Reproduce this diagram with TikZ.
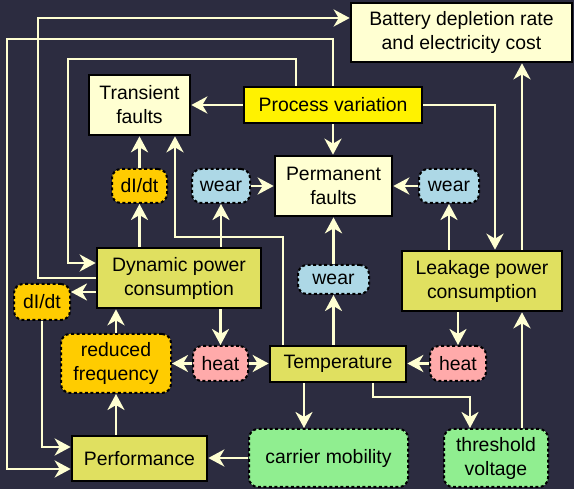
\documentclass[tikz,border=0pt]{standalone}
\usepackage{fontspec}
\setmainfont{Liberation Sans}
\usetikzlibrary{arrows.meta}
\definecolor{bgcol}{HTML}{2C2C40}
\definecolor{cream}{HTML}{FFFFD2}
\definecolor{olive}{HTML}{E0E060}
\definecolor{gold}{HTML}{FFCC00}
\definecolor{sky}{HTML}{ADD8E6}
\definecolor{rose}{HTML}{FFAAAA}
\definecolor{mint}{HTML}{90EE90}
\begin{document}
\begin{tikzpicture}[x=1pt,y=-1pt,
  box/.style={draw=black,line width=2.6pt,align=center,inner sep=0pt,
    font=\fontsize{19.4}{24}\selectfont},
  soft/.style={box,line width=2pt,dash pattern=on 3pt off 2.5pt,rounded corners=9pt},
  arr/.style={draw=cream,line width=2.8pt,
    -{Stealth[length=16pt,width=17pt,inset=5pt]}}]
  \useasboundingbox (0,0) rectangle (574,489);
  \fill[bgcol] (0,0) rectangle (574,489);
  % boxes
  \node[box,fill=cream,minimum width=221,minimum height=59] (bat) at(461.5,32.5){Battery depletion rate\\and electricity cost};
  \node[box,fill=cream,minimum width=101,minimum height=60] (tr) at(139.5,105){Transient\\faults};
  \node[box,fill=yellow,minimum width=178,minimum height=36] (pv) at(333,105){Process variation};
  \node[box,fill=cream,minimum width=117,minimum height=60] (perm) at(333.5,186){Permanent\\faults};
  \node[soft,fill=sky,minimum width=58,minimum height=34] (wearL) at(221,186){wear};
  \node[soft,fill=gold,minimum width=55,minimum height=34] (didtT) at(139.5,186){dI/dt};
  \node[soft,fill=sky,minimum width=60,minimum height=34] (wearR) at(449,186){wear};
  \node[box,fill=olive,minimum width=164,minimum height=60] (dyn) at(179,278){Dynamic power\\consumption};
  \node[soft,fill=sky,minimum width=71,minimum height=29] (wearM) at(333.5,279.5){wear};
  \node[box,fill=olive,minimum width=160,minimum height=60] (leak) at(482,281){Leakage power\\consumption};
  \node[soft,fill=gold,minimum width=56,minimum height=36] (didtL) at(42,302){dI/dt};
  \node[soft,fill=gold,minimum width=110,minimum height=59] (rf) at(116,363.5){reduced\\frequency};
  \node[soft,fill=rose,minimum width=55,minimum height=35] (heatL) at(220.5,363.5){heat};
  \node[box,fill=olive,minimum width=136,minimum height=36] (temp) at(338,364){Temperature};
  \node[soft,fill=rose,minimum width=56,minimum height=35] (heatR) at(458,363.5){heat};
  \node[box,fill=olive,minimum width=135,minimum height=45] (perf) at(139.5,458.5){Performance};
  \node[soft,fill=mint,minimum width=159,minimum height=58] (cm) at(328.5,458){carrier mobility};
  \node[soft,fill=mint,minimum width=104,minimum height=58] (thr) at(496,458){threshold\\voltage};
  % long loops
  \draw[arr] (dyn.west) -| (38,18) -- (bat.west |- 0,18);
  \draw[arr] (pv.north) |- (7,39) |- (perf.west |- 0,469);
  \draw[arr] (pv.north -| 296,0) |- (68,59) |- (dyn.west |- 0,263);
  \draw[arr] (pv.east) -| (leak.north -| 495,0);
  \draw[arr] (leak.north -| 522,0) -- (bat.south -| 522,0);
  \draw[arr] (temp.north -| 283,0) |- (175,237) -- (tr.south -| 175,0);
  \draw[arr] (temp.south -| 373,0) |- (470,397) -- (thr.north -| 470,0);
  \draw[arr] (didtL.south) |- (perf.west |- 0,447);
  % short links
  \draw[arr] (pv.west) -- (tr.east);
  \draw[arr] (pv.south) -- (pv.south |- perm.north);
  \draw[arr] (wearR.south |- leak.north) -- (wearR.south);
  \draw[arr] (wearR.west) -- (perm.east |- wearR.west);
  \draw[arr] (wearL.east) -- (perm.west |- wearL.east);
  \draw[arr] (wearL.south |- dyn.north) -- (wearL.south);
  \draw[arr] (didtT.south |- dyn.north) -- (didtT.south);
  \draw[arr] (didtT.north) -- (tr.south -| didtT.north);
  \draw[arr] (wearM.south |- temp.north) -- (wearM.south);
  \draw[arr] (wearM.north) -- (perm.south -| wearM.north);
  \draw[arr] (heatL.north |- dyn.south) -- (heatL.north);
  \draw[arr] (dyn.west |- 0,292) -- (didtL.east |- 0,292);
  \draw[arr] (rf.north) -- (rf.north |- dyn.south);
  \draw[arr] (rf.south |- perf.north) -- (rf.south);
  \draw[arr] (heatL.west) -- (rf.east |- heatL.west);
  \draw[arr] (heatL.east) -- (temp.west |- heatL.east);
  \draw[arr] (heatR.north |- leak.south) -- (heatR.north);
  \draw[arr] (heatR.west) -- (temp.east |- heatR.west);
  \draw[arr] (temp.south -| 304,0) -- (cm.north -| 304,0);
  \draw[arr] (thr.north -| 522,0) -- (leak.south -| 522,0);
  \draw[arr] (cm.west) -- (perf.east |- cm.west);
\end{tikzpicture}
\end{document}
